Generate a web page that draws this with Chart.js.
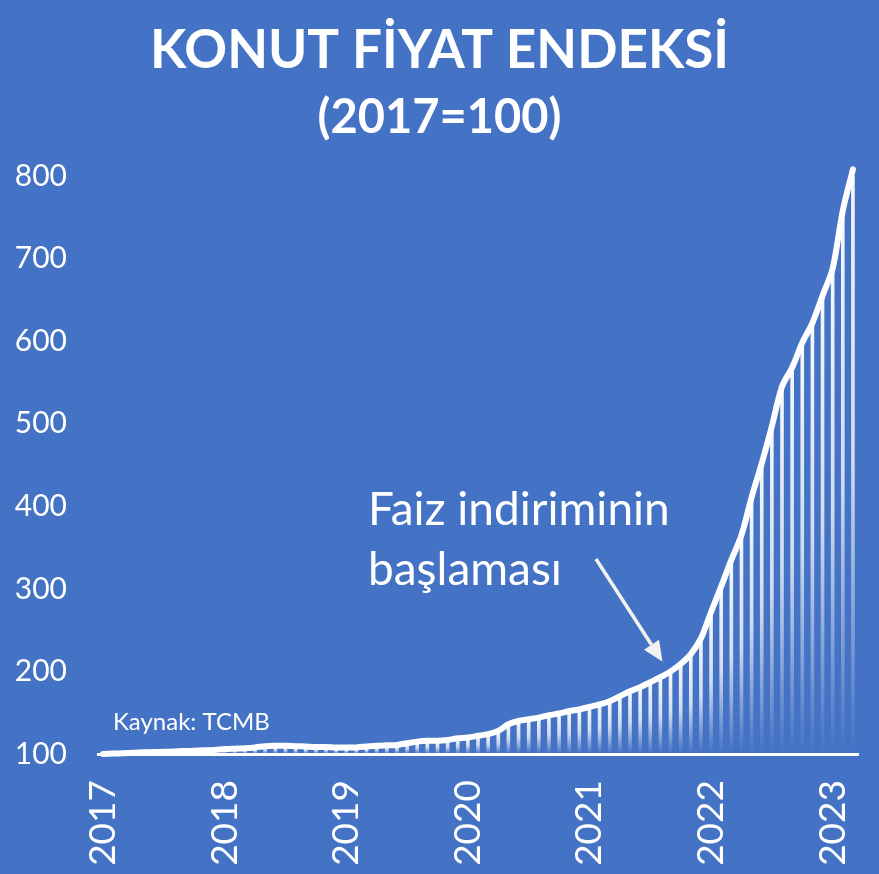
<!DOCTYPE html>
<html>
<head>
<meta charset="utf-8">
<title>Konut Fiyat Endeksi</title>
<script src="https://cdn.jsdelivr.net/npm/chart.js@4.4.1/dist/chart.umd.min.js"></script>
<style>
    html, body { margin: 0; padding: 0; background: #4472C4; }
    canvas { display: block; }
</style>
</head>
<body>
<canvas id="kfeChart" width="879" height="874"></canvas>
<script>
// Veriler (TCMB, 2017=100), Ocak 2017 - Mart 2023, aylik
const years = [2017, 2018, 2019, 2020, 2021, 2022, 2023];
const months = ["01", "02", "03", "04", "05", "06", "07", "08", "09", "10", "11", "12"];

const index2017 = [100, 100.5, 101, 101.5, 102, 102.3, 102.7, 103, 103.5, 104, 104.5, 105];
const index2018 = [106, 106.5, 107, 108, 109.5, 110, 110, 109.5, 109, 108.5, 108.5, 108];
const index2019 = [108, 108, 109, 110, 110.5, 111, 113, 115, 116, 116, 117, 119];
const index2020 = [120, 122, 124, 128, 136, 140, 142, 144, 147, 149, 152, 154];
const index2021 = [157, 160, 164, 170, 176, 181, 187, 193, 200, 209, 221, 240];
const index2022 = [272, 303, 335, 365, 411, 452, 497, 545, 568, 598, 622, 655];
const index2023 = [688, 758, 808];

const yTicks = [100, 200, 300, 400, 500, 600, 700, 800];

const values = [].concat(index2017, index2018, index2019, index2020, index2021, index2022, index2023);

// Etiketler: "2017-01" ...
const labels = [];
years.forEach((y) => {
    months.forEach((m) => {
        if (labels.length < values.length) labels.push(y + "-" + m);
    });
});

const fontName = "Lato, 'Open Sans', sans-serif";

// Cubuklar icin dikey gecis (ustte beyaz, altta saydam)
function barGradient(context) {
    const chart = context.chart;
    const area = chart.chartArea;
    if (!area) return "rgba(255,255,255,0.8)";
    const yScale = chart.scales.y;
    const top = yScale.getPixelForValue(context.raw);
    const bottom = yScale.getPixelForValue(yTicks[0]);
    if (!isFinite(top) || bottom - top < 1) return "rgba(255,255,255,0.8)";
    const g = chart.ctx.createLinearGradient(0, top, 0, bottom);
    g.addColorStop(0, "rgba(255,255,255,0.95)");
    g.addColorStop(0.5, "rgba(255,255,255,0.75)");
    g.addColorStop(1, "rgba(255,255,255,0)");
    return g;
}

// Not ve ok
const notesPlugin = {
    id: "notes",
    afterDatasetsDraw(chart) {
        const { ctx, chartArea, scales } = chart;
        ctx.save();
        ctx.fillStyle = "#FFFFFF";
        ctx.textBaseline = "alphabetic";
        ctx.textAlign = "left";

        ctx.font = "24px " + fontName;
        ctx.fillText("Kaynak: TCMB", chartArea.left + 15, chartArea.bottom - 24);

        ctx.font = "46px " + fontName;
        ctx.fillText("Faiz indiriminin", chartArea.left + 270, 525);
        ctx.fillText("başlaması", chartArea.left + 270, 585);

        // ok
        const x0 = 596, y0 = 559;
        const x1 = scales.x.getPixelForValue(55) + 2;
        const y1 = scales.y.getPixelForValue(212);
        const ang = Math.atan2(y1 - y0, x1 - x0);
        const head = 20, half = 9;
        const bx = x1 - head * Math.cos(ang), by = y1 - head * Math.sin(ang);
        ctx.strokeStyle = "#F2F2F2";
        ctx.fillStyle = "#F2F2F2";
        ctx.lineWidth = 3.5;
        ctx.beginPath();
        ctx.moveTo(x0, y0);
        ctx.lineTo(bx, by);
        ctx.stroke();
        ctx.beginPath();
        ctx.moveTo(x1, y1);
        ctx.lineTo(bx + half * Math.sin(ang), by - half * Math.cos(ang));
        ctx.lineTo(bx - half * Math.sin(ang), by + half * Math.cos(ang));
        ctx.closePath();
        ctx.fill();
        ctx.restore();
    },
};

const kfe = document.getElementById("kfeChart").getContext("2d");

let chart = new Chart(kfe, {
    type: "bar",
    data: {
        labels: labels,
        datasets: [
            {
                type: "line",
                label: "KFE",
                data: values,
                borderColor: "#FFFFFF",
                borderWidth: 6,
                borderCapStyle: "round",
                borderJoinStyle: "round",
                pointRadius: 0,
                tension: 0.3,
                clip: false,
                order: 1,
            },
            {
                type: "bar",
                label: "KFE cubuk",
                data: values,
                backgroundColor: barGradient,
                barThickness: 3,
                order: 2,
            },
        ],
    },
    options: {
        responsive: false,
        animation: false,
        layout: {
            padding: 0,
        },
        plugins: {
            legend: { display: false },
            tooltip: { enabled: false },
            title: {
                display: true,
                text: "KONUT FİYAT ENDEKSİ",
                color: "#FFFFFF",
                font: { family: fontName, size: 53, weight: "bold" },
                padding: { top: 19, bottom: 4 },
            },
            subtitle: {
                display: true,
                text: "(2017=100)",
                color: "#FFFFFF",
                font: { family: fontName, size: 47, weight: "bold" },
                padding: { top: 3, bottom: 30 },
            },
        },
        scales: {
            x: {
                grid: { display: false, drawTicks: false },
                border: { display: true, color: "#FFFFFF", width: 3 },
                afterFit: (s) => {
                    s.height = 120;
                    s.paddingLeft = 0;
                    s.paddingRight = 21;
                },
                ticks: {
                    autoSkip: false,
                    minRotation: 90,
                    maxRotation: 90,
                    padding: 26,
                    color: "#FFFFFF",
                    font: { family: fontName, size: 37 },
                    callback: function (val) {
                        const l = this.getLabelForValue(val);
                        return l.endsWith("-01") ? l.slice(0, 4) : null;
                    },
                },
            },
            y: {
                min: yTicks[0],
                max: yTicks[yTicks.length - 1],
                grid: { display: false, drawTicks: false },
                border: { display: false },
                afterFit: (s) => { s.width = 98; },
                ticks: {
                    stepSize: 100,
                    padding: 31,
                    color: "#FFFFFF",
                    font: { family: fontName, size: 30 },
                },
            },
        },
    },
    plugins: [notesPlugin],
});
</script>
</body>
</html>
